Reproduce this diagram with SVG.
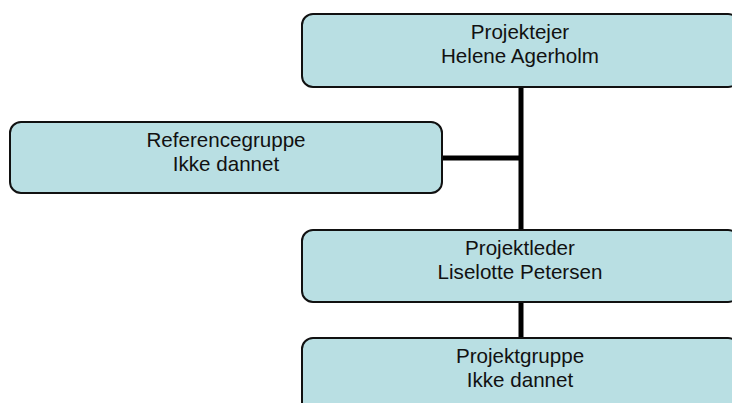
<svg xmlns="http://www.w3.org/2000/svg" width="732" height="403" viewBox="0 0 732 403">
<style>
.box{fill:#B9DFE3;stroke:#111;stroke-width:2}
.t{font-family:"Liberation Sans",Arial,sans-serif;font-size:20.6px;fill:#111;text-anchor:middle}
.c{stroke:#000;stroke-width:5;fill:none}
</style>
<rect width="732" height="403" fill="#fff"/>
<g id="connectors">
<line class="c" x1="521" y1="87" x2="521" y2="230"/>
<line class="c" x1="442" y1="158" x2="521" y2="158"/>
<line class="c" x1="521" y1="302" x2="521" y2="338"/>
</g>
<g id="projektejer">
<rect class="box" x="302" y="14" width="437" height="73" rx="11"/>
<text class="t" x="520" y="39">Projektejer</text>
<text class="t" x="520" y="63">Helene Agerholm</text>
</g>
<g id="referencegruppe">
<rect class="box" x="10" y="122" width="432" height="71" rx="11"/>
<text class="t" x="226" y="147">Referencegruppe</text>
<text class="t" x="226" y="171">Ikke dannet</text>
</g>
<g id="projektleder">
<rect class="box" x="302" y="230" width="437" height="72" rx="11"/>
<text class="t" x="520" y="255">Projektleder</text>
<text class="t" x="520" y="279">Liselotte Petersen</text>
</g>
<g id="projektgruppe">
<rect class="box" x="302" y="338" width="437" height="80" rx="11"/>
<text class="t" x="520" y="363">Projektgruppe</text>
<text class="t" x="520" y="387">Ikke dannet</text>
</g>
</svg>
